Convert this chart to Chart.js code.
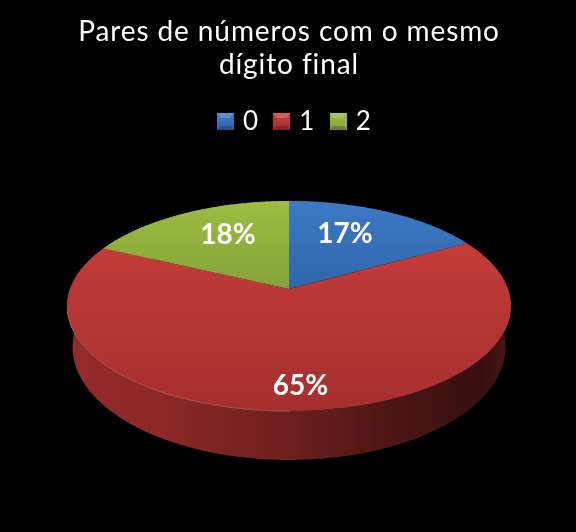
<!DOCTYPE html>
<html>
<head>
<meta charset="utf-8">
<script src="https://cdn.jsdelivr.net/npm/chart.js@4"></script>
<style>
    html, body { margin: 0; background: #000; }
    #wrap { width: 576px; height: 532px; }
</style>
</head>
<body>
<div id="wrap"><canvas id="pie"></canvas></div>
<script>
const titleLines = ['Pares de números com o mesmo', 'dígito final'];
const categories = ['0', '1', '2'];
const percents = [17, 65, 18];
const topColors = ['#3b7ac4', '#cb3f3d', '#9dbc40'];
const lowColors = ['#2f66ab', '#a52f2d', '#86a33a'];

const fontName = 'Lato, Carlito, sans-serif';

// how far out on the slice each percent label sits
const labelPull = [0.55, 0.82, 0.55];

function shade(hex, f) {
    const n = parseInt(hex.slice(1), 16);
    const r = Math.round((n >> 16 & 255) * f);
    const g = Math.round((n >> 8 & 255) * f);
    const b = Math.round((n & 255) * f);
    return `rgb(${r},${g},${b})`;
}

// small bevelled square for the legend
function legendSwatch(top, low) {
    const c = document.createElement('canvas');
    c.width = 17;
    c.height = 17;
    const g = c.getContext('2d');
    const fill = g.createLinearGradient(0, 0, 0, 17);
    fill.addColorStop(0, top);
    fill.addColorStop(1, low);
    g.fillStyle = fill;
    g.fillRect(0, 0, 17, 17);
    g.fillStyle = 'rgba(255,255,255,0.18)';
    g.beginPath();
    g.moveTo(0, 0); g.lineTo(17, 0); g.lineTo(13, 5); g.lineTo(4, 5);
    g.fill();
    g.fillStyle = 'rgba(0,0,0,0.22)';
    g.beginPath();
    g.moveTo(0, 17); g.lineTo(17, 17); g.lineTo(14, 13); g.lineTo(3, 13);
    g.fill();
    return c;
}

// Tilted 3D look: the library's arc angles go through a perspective map
const tilt = {
    persp: 0.162,
    topY: 0.467,
    baseX: 0.975,
    baseY: 0.502,
    baseDrop: 39.7
};

function project(arc, angle, base) {
    const w = 1 - tilt.persp * Math.sin(angle);
    const rx = arc.outerRadius * (base ? tilt.baseX : 1);
    const ry = arc.outerRadius * (base ? tilt.baseY : tilt.topY);
    return {
        x: arc.x + rx * Math.cos(angle) / w,
        y: arc.y + (base ? tilt.baseDrop : 0) + ry * Math.sin(angle) / w
    };
}

function tracePerimeter(ctx, arc, from, to, base) {
    const steps = Math.max(2, Math.ceil(Math.abs(to - from) / 0.01));
    for (let i = 0; i <= steps; i++) {
        const p = project(arc, from + (to - from) * i / steps, base);
        ctx.lineTo(p.x, p.y);
    }
}

const pie3d = {
    id: 'pie3d',
    // the legend in the picture sits a little right of centre
    afterLayout(chart) {
        chart.legend.left += 12;
    },
    // title text is spaced out a bit
    beforeDraw(chart) {
        chart.ctx.letterSpacing = '0.9px';
    },
    beforeDatasetDraw(chart, args) {
        const ctx = chart.ctx;
        const arcs = args.meta.data;
        const first = arcs[0];
        const left = first.x - first.outerRadius * 1.02;
        const width = first.outerRadius * 2.04;

        // side wall first
        arcs.forEach((arc, i) => {
            const g = ctx.createLinearGradient(left, 0, left + width, 0);
            g.addColorStop(0, shade(lowColors[i], 0.9));
            g.addColorStop(0.22, shade(lowColors[i], 0.85));
            g.addColorStop(0.5, shade(lowColors[i], 0.66));
            g.addColorStop(0.75, shade(lowColors[i], 0.44));
            g.addColorStop(0.93, shade(lowColors[i], 0.33));
            g.addColorStop(1, shade(lowColors[i], 0.46));
            ctx.fillStyle = g;
            ctx.beginPath();
            tracePerimeter(ctx, arc, arc.startAngle, arc.endAngle, false);
            tracePerimeter(ctx, arc, arc.endAngle, arc.startAngle, true);
            ctx.closePath();
            ctx.fill();
        });

        // top face
        const yTop = project(first, -Math.PI / 2, false).y;
        const yLow = project(first, Math.PI / 2, false).y;
        arcs.forEach((arc, i) => {
            const g = ctx.createLinearGradient(0, yTop, 0, yLow);
            g.addColorStop(0, topColors[i]);
            g.addColorStop(i === 1 ? 1 : 0.42, lowColors[i]);
            ctx.fillStyle = g;
            ctx.beginPath();
            ctx.moveTo(arc.x, arc.y);
            tracePerimeter(ctx, arc, arc.startAngle, arc.endAngle, false);
            ctx.closePath();
            ctx.fill();
        });

        // thin light rim at the front left
        ctx.strokeStyle = 'rgba(255,200,190,0.3)';
        ctx.lineWidth = 1;
        ctx.beginPath();
        tracePerimeter(ctx, first, Math.PI * 0.5, Math.PI * 0.94, false);
        ctx.stroke();

        // percent labels
        ctx.letterSpacing = '0px';
        ctx.fillStyle = '#fff';
        ctx.font = 'bold 28px ' + fontName;
        ctx.textAlign = 'center';
        ctx.textBaseline = 'middle';
        arcs.forEach((arc, i) => {
            const mid = (arc.startAngle + arc.endAngle) / 2;
            const w = 1 - tilt.persp * labelPull[i] * Math.sin(mid);
            const x = arc.x + arc.outerRadius * labelPull[i] * Math.cos(mid) / w;
            const y = arc.y + arc.outerRadius * tilt.topY * labelPull[i] * Math.sin(mid) / w;
            const lift = i === 1 ? 0 : 10;
            ctx.fillText(percents[i] + '%', x + (i === 1 ? 5 : -1), y - lift);
        });
        return false;
    }
};

const chart = new Chart(document.getElementById('pie'), {
    type: 'pie',
    data: {
        labels: categories,
        datasets: [{
            data: percents,
            backgroundColor: topColors,
            borderWidth: 0,
            radius: 219
        }]
    },
    options: {
        responsive: true,
        maintainAspectRatio: false,
        animation: false,
        layout: { padding: { left: 2, bottom: 98.5 } },
        plugins: {
            title: {
                display: true,
                text: titleLines,
                color: '#fff',
                font: { family: fontName, size: 28, weight: 'normal', lineHeight: 1.18 },
                padding: { top: 15.5, bottom: 8.5 }
            },
            legend: {
                position: 'top',
                labels: {
                    color: '#fff',
                    font: { family: fontName, size: 26 },
                    usePointStyle: true,
                    pointStyleWidth: 9,
                    padding: 18.5,
                    generateLabels(c) {
                        const base = Chart.overrides.pie.plugins.legend.labels.generateLabels(c);
                        return base.map((item, i) => {
                            item.pointStyle = legendSwatch(topColors[i], lowColors[i]);
                            return item;
                        });
                    }
                }
            },
            tooltip: { enabled: false }
        }
    },
    plugins: [pie3d]
});
</script>
</body>
</html>
